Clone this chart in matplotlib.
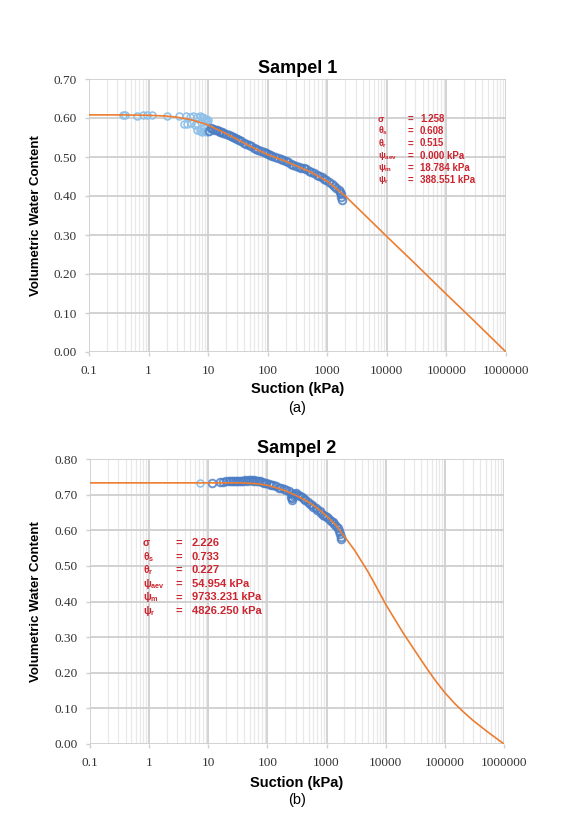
import numpy as np
import matplotlib.pyplot as plt
from matplotlib.ticker import LogLocator, FixedLocator, FixedFormatter, NullFormatter

# ---- Sampel 1 ----
s1_x = [0.37, 0.40, 0.63, 0.81, 0.95, 1.13, 2.0, 3.2, 4.3, 5.0, 5.6, 6.5, 7.3, 8.0, 8.6, 9.2, 9.8, 9.5, 8.9,
        3.9, 4.5, 5.2, 6.0, 6.6,
        6.5, 7.2, 8.0, 8.8, 9.6, 10.5, 7.6, 8.4,
        11, 12, 13, 14, 15, 16, 17, 18, 20, 22, 24, 26, 28, 30, 33, 36, 40, 44, 48, 53, 58, 64, 70, 77, 85, 93,
        100, 110, 120, 135, 150, 165, 180, 200, 220, 245, 270, 300, 330, 365, 400, 440, 490, 540, 600, 660,
        730, 800, 880, 970, 1070, 1180, 1300, 1420, 1550, 1650, 1700, 1720, 1740]
s1_y = [0.607, 0.608, 0.606, 0.607, 0.607, 0.607, 0.606, 0.604, 0.604, 0.603, 0.605, 0.603, 0.604, 0.602, 0.600, 0.598, 0.594, 0.590, 0.592,
        0.585, 0.584, 0.586, 0.583, 0.585,
        0.570, 0.566, 0.565, 0.566, 0.565, 0.566, 0.572, 0.575,
        0.575, 0.572, 0.570, 0.568, 0.566, 0.565, 0.563, 0.561, 0.558, 0.556, 0.553, 0.550, 0.549, 0.547, 0.544, 0.540, 0.536, 0.533, 0.530, 0.527, 0.523, 0.520, 0.518, 0.515, 0.512, 0.510,
        0.508, 0.505, 0.503, 0.500, 0.497, 0.494, 0.492, 0.489, 0.486, 0.483, 0.480, 0.477, 0.475, 0.473, 0.471, 0.468, 0.465, 0.462, 0.459, 0.455,
        0.452, 0.448, 0.444, 0.440, 0.435, 0.430, 0.425, 0.420, 0.415, 0.411, 0.405, 0.398, 0.390]
fit1_x = [0.1, 0.3, 1, 2, 3, 5, 8, 10, 15, 20, 30, 50, 100, 200, 500, 1000, 2000, 5000, 10000, 30000, 100000, 300000, 1000000]
fit1_y = [0.608, 0.608, 0.607, 0.605, 0.602, 0.596, 0.587, 0.582, 0.569, 0.560, 0.546, 0.528, 0.506, 0.489, 0.463, 0.438, 0.400, 0.341, 0.296, 0.226, 0.148, 0.078, 0.000]
par1_sym = ['σ', 'θ$_\\mathregular{s}$', 'θ$_\\mathregular{r}$', 'ψ$_\\mathregular{aev}$', 'ψ$_\\mathregular{m}$', 'ψ$_\\mathregular{r}$']
par1_val = ['1.258', '0.608', '0.515', '0.000 kPa', '18.784 kPa', '388.551 kPa']

# ---- Sampel 2 ----
s2_x = [7.2, 11.4, 15.8, 18, 20, 22, 24, 26, 28, 30, 33, 36, 39, 42, 45, 48, 52, 56, 60, 65, 70, 75, 80, 88, 95,
        105, 115, 125, 140, 155, 170, 190, 210, 230, 250, 255, 260, 265, 275, 290, 310, 330, 350, 380, 410, 440,
        480, 520, 560, 600, 650, 700, 760, 820, 880, 950, 1020, 1100, 1180, 1260, 1350, 1450, 1550, 1650, 1700, 1720, 1740]
s2_y = [0.733, 0.734, 0.735, 0.736, 0.737, 0.737, 0.738, 0.737, 0.738, 0.738, 0.739, 0.738, 0.739, 0.740, 0.739, 0.740, 0.740, 0.739, 0.740, 0.739, 0.739, 0.738, 0.736, 0.734, 0.732,
        0.730, 0.728, 0.726, 0.723, 0.720, 0.718, 0.716, 0.713, 0.710, 0.705, 0.692, 0.685, 0.690, 0.700, 0.703, 0.704, 0.700, 0.697, 0.692, 0.688, 0.684,
        0.679, 0.674, 0.670, 0.666, 0.662, 0.658, 0.653, 0.648, 0.644, 0.640, 0.636, 0.632, 0.627, 0.622, 0.617, 0.611, 0.605, 0.598, 0.590, 0.582, 0.576]
fit2_x = [0.1, 1, 10, 30, 50, 70, 100, 150, 200, 300, 500, 700, 1000, 1500, 2000, 3000, 5000, 7000, 10000, 15000, 20000, 30000, 50000, 70000,
          100000, 150000, 200000, 300000, 500000, 700000, 1000000]
fit2_y = [0.733, 0.733, 0.733, 0.733, 0.732, 0.730, 0.726, 0.718, 0.711, 0.698, 0.679, 0.662, 0.640, 0.611, 0.583, 0.543, 0.484, 0.440, 0.392, 0.344, 0.310, 0.266, 0.211, 0.177,
          0.144, 0.112, 0.092, 0.066, 0.037, 0.019, 0.000]
par2_sym = par1_sym
par2_val = ['2.226', '0.733', '0.227', '54.954 kPa', '9733.231 kPa', '4826.250 kPa']

xtick_vals = [0.1, 1, 10, 100, 1000, 10000, 100000, 1000000]
xtick_labels = ['0.1', '1', '10', '100', '1000', '10000', '100000', '1000000']

red = '#cc2530'
blue_light = '#8fc0e8'
blue_dark = '#4a7cc4'
orange = '#ed7d31'

fig = plt.figure(figsize=(5.77, 8.18), dpi=100)
ax1 = fig.add_axes([89/577, 1-352/818, 417/577, 273/818])
ax2 = fig.add_axes([90/577, 1-744/818, 414/577, 285/818])


def style(ax, ymax, title):
    ax.set_xscale('log')
    ax.set_xlim(0.1, 1000000)
    ax.set_ylim(0, ymax)
    for sp in ax.spines.values():
        sp.set_visible(False)
    ax.xaxis.set_major_locator(FixedLocator(xtick_vals))
    ax.xaxis.set_major_formatter(FixedFormatter(xtick_labels))
    ax.xaxis.set_minor_locator(LogLocator(base=10, subs=np.arange(2, 10)))
    ax.xaxis.set_minor_formatter(NullFormatter())
    yt = np.round(np.arange(0, ymax + 0.001, 0.1), 2)
    ax.set_yticks(yt)
    ax.set_yticklabels(['%.2f' % v for v in yt])
    ax.grid(which='major', axis='both', color='#cfcfcf', lw=1.3, zorder=0)
    ax.grid(which='minor', axis='x', color='#e8e8e8', lw=0.9, zorder=0)
    ax.set_axisbelow(True)
    ax.tick_params(which='major', length=3, color='#d0d0d0', width=1, pad=6)
    ax.tick_params(which='minor', length=0)
    for lab in ax.get_xticklabels() + ax.get_yticklabels():
        lab.set_family('Liberation Serif')
        lab.set_fontsize(9.5)
        lab.set_color('#333333')
    ax.set_title(title, fontsize=13, fontweight='bold', family='Liberation Sans', pad=4.5)
    ax.set_xlabel('Suction (kPa)', fontsize=10.5, fontweight='bold', family='Liberation Sans')
    ax.set_ylabel('Volumetric Water Content', fontsize=9.5, fontweight='bold', family='Liberation Sans')


style(ax1, 0.7, 'Sampel 1')
style(ax2, 0.8, 'Sampel 2')


def scatter(ax, xs, ys):
    xs = np.array(xs)
    ys = np.array(ys)
    lo = xs < 10
    ax.plot(xs[lo], ys[lo], 'o', mfc='none', mec=blue_light, mew=1.1, ms=5, zorder=2)
    ax.plot(xs[~lo], ys[~lo], 'o', mfc='none', mec=blue_dark, mew=1.4, ms=5.5, alpha=0.8, zorder=2)


scatter(ax1, s1_x, s1_y)
ax1.plot(fit1_x, fit1_y, color=orange, lw=1.2, zorder=3)
scatter(ax2, s2_x, s2_y)
ax2.plot(fit2_x, fit2_y, color=orange, lw=1.2, zorder=3)

ax1.xaxis.set_label_coords(0.5, (352-382)/273)
ax1.yaxis.set_label_coords((42-89)/417, 0.5)
ax2.xaxis.set_label_coords(0.5, (744-776)/285)
ax2.yaxis.set_label_coords((42-90)/414, 0.5)

# parameter boxes
for i in range(6):
    y = (352 - (119 + 12.2*i)) / 273
    ax1.text(0.693, y, par1_sym[i], transform=ax1.transAxes, color=red, fontsize=6.5, fontweight='bold',
             family='Liberation Sans', va='center')
    ax1.text(0.77, y, '=', transform=ax1.transAxes, color=red, fontsize=7, fontweight='bold',
             family='Liberation Sans', va='center', ha='center')
    ax1.text(0.794, y, par1_val[i], transform=ax1.transAxes, color=red, fontsize=7, fontweight='bold',
             family='Liberation Sans', va='center')
for i in range(6):
    y = (744 - (543 + 13.6*i)) / 285
    ax2.text(0.128, y, par2_sym[i], transform=ax2.transAxes, color=red, fontsize=7.5, fontweight='bold',
             family='Liberation Sans', va='center')
    ax2.text(0.215, y, '=', transform=ax2.transAxes, color=red, fontsize=8, fontweight='bold',
             family='Liberation Sans', va='center', ha='center')
    ax2.text(0.246, y, par2_val[i], transform=ax2.transAxes, color=red, fontsize=8, fontweight='bold',
             family='Liberation Sans', va='center')

fig.text(297/577, 1-408/818, '(a)', ha='center', va='center', fontsize=10.5, family='Liberation Sans')
fig.text(297/577, 1-800/818, '(b)', ha='center', va='center', fontsize=10.5, family='Liberation Sans')

fig.savefig('out.png', dpi=100)
